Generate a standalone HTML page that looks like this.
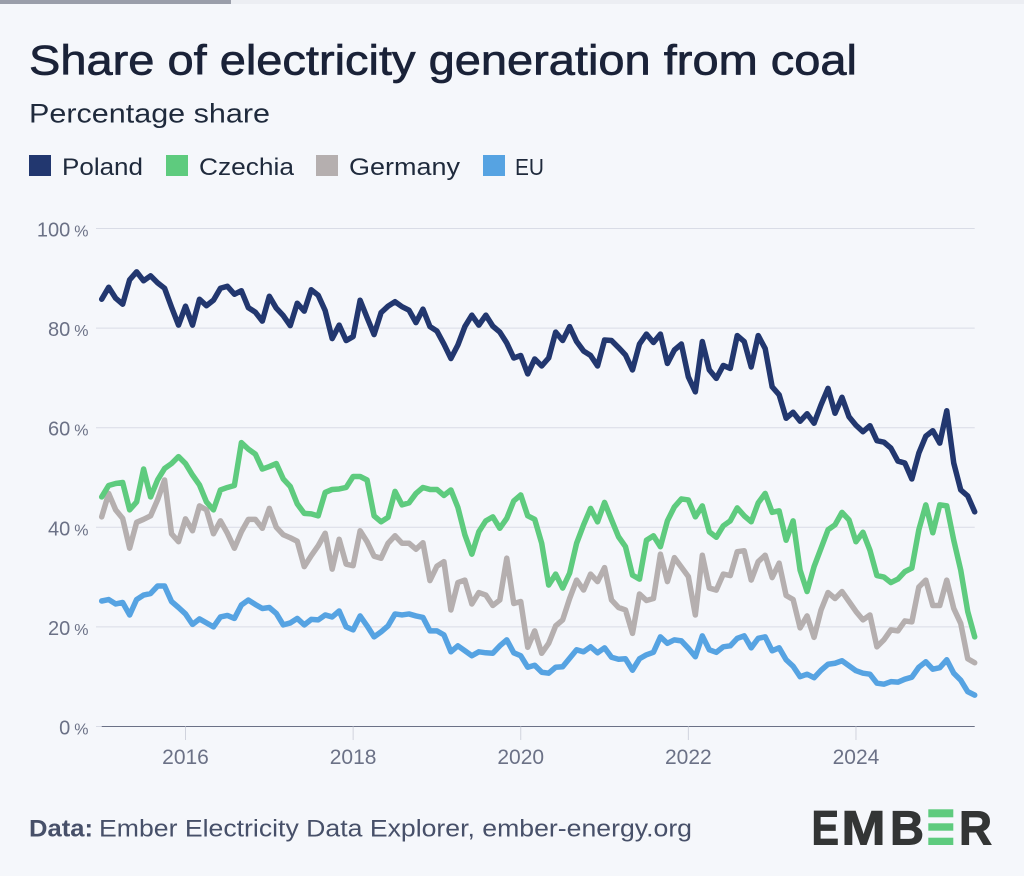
<!DOCTYPE html>
<html lang="en">
<head>
<meta charset="utf-8">
<title>Share of electricity generation from coal</title>
<style>
html,body{margin:0;padding:0;background:#f5f7fb;width:1024px;height:876px;overflow:hidden}
svg{display:block}
text{font-family:"Liberation Sans",sans-serif}
</style>
</head>
<body>
<svg id="chart" xmlns="http://www.w3.org/2000/svg" width="1024" height="876" viewBox="0 0 1024 876">
  <rect x="0" y="0" width="1024" height="876" fill="#f5f7fb"/>
  <rect x="0" y="0" width="1024" height="4" fill="#eceef3"/>
  <rect x="0" y="0" width="231" height="4" fill="#9a9eaa"/>

  <text x="29" y="74.5" font-size="42" fill="#1a2238" stroke="#1a2238" stroke-width="0.7" textLength="828" lengthAdjust="spacingAndGlyphs">Share of electricity generation from coal</text>
  <text x="29" y="122.3" font-size="27" fill="#1f2a3c" textLength="241" lengthAdjust="spacingAndGlyphs">Percentage share</text>

  <g>
    <rect x="29" y="155" width="22" height="21" fill="#22376f"/>
    <text x="62" y="175" font-size="24.5" fill="#1f2a3c" textLength="81" lengthAdjust="spacingAndGlyphs">Poland</text>
    <rect x="166" y="155" width="22" height="21" fill="#5ecb7e"/>
    <text x="199" y="175" font-size="24.5" fill="#1f2a3c" textLength="95" lengthAdjust="spacingAndGlyphs">Czechia</text>
    <rect x="316" y="155" width="22" height="21" fill="#b5afaf"/>
    <text x="349" y="175" font-size="24.5" fill="#1f2a3c" textLength="111" lengthAdjust="spacingAndGlyphs">Germany</text>
    <rect x="483" y="155" width="22" height="21" fill="#56a3e2"/>
    <text x="515" y="175" font-size="23" fill="#1f2a3c" textLength="29" lengthAdjust="spacingAndGlyphs">EU</text>
  </g>

  <g id="y-axis"></g>
  <g id="x-axis"></g>
  <g id="series"></g>

  <g>
    <text x="29" y="836.5" font-size="24.5" font-weight="700" fill="#475069" textLength="64" lengthAdjust="spacingAndGlyphs">Data:</text>
    <text x="99" y="836.5" font-size="24.5" fill="#475069" textLength="593" lengthAdjust="spacingAndGlyphs">Ember Electricity Data Explorer, ember-energy.org</text>
  </g>

  <g>
    <text x="811.5" y="844.7" font-size="48.5" font-weight="700" fill="#333535" stroke="#333535" stroke-width="1" textLength="27.5" lengthAdjust="spacingAndGlyphs">E</text>
    <text x="841.5" y="844.7" font-size="48.5" font-weight="700" fill="#333535" stroke="#333535" stroke-width="1" textLength="44" lengthAdjust="spacingAndGlyphs">M</text>
    <text x="890" y="844.7" font-size="48.5" font-weight="700" fill="#333535" stroke="#333535" stroke-width="1" textLength="34" lengthAdjust="spacingAndGlyphs">B</text>
    <rect x="928.3" y="809.3" width="25" height="8" fill="#5ecb7e"/>
    <rect x="928.3" y="823.3" width="25" height="7.4" fill="#5ecb7e"/>
    <rect x="928.3" y="837.7" width="25" height="7.3" fill="#5ecb7e"/>
    <text x="959" y="844.7" font-size="48.5" font-weight="700" fill="#333535" stroke="#333535" stroke-width="1" textLength="33" lengthAdjust="spacingAndGlyphs">R</text>
  </g>
</svg>
<script>
const startYear = 2015;
const yTicks = [0, 20, 40, 60, 80, 100];
const xTickYears = [2016, 2018, 2020, 2022, 2024];

const poland = [85.8,88.2,86.0,84.8,89.7,91.3,89.5,90.5,89.1,88.0,84.2,80.6,84.4,80.6,85.8,84.5,85.6,88.0,88.4,86.8,87.5,84.1,83.2,81.4,86.4,84.0,82.5,80.5,85.0,83.4,87.7,86.6,83.5,77.9,80.6,77.5,78.3,85.6,82.1,78.7,83.1,84.4,85.3,84.3,83.6,81.1,83.8,80.3,79.4,76.8,73.9,76.6,80.3,82.6,80.6,82.6,80.4,79.2,77.0,74.0,74.5,70.8,73.8,72.4,74.0,79.2,77.5,80.3,77.3,75.4,74.5,72.4,77.6,77.5,76.1,74.6,71.6,76.8,78.8,77.1,78.8,72.9,75.6,76.8,70.2,67.2,77.3,71.6,69.9,72.5,71.9,78.5,77.3,72.2,78.5,75.9,68.2,66.6,61.9,63.1,61.3,62.8,60.9,64.6,67.9,62.9,66.1,62.2,60.5,59.2,60.4,57.4,57.1,55.9,53.3,52.9,49.7,54.9,58.3,59.4,56.9,63.4,52.9,47.5,46.3,43.1];
const czechia = [46.1,48.4,48.8,49.0,43.5,45.1,51.7,46.1,49.5,51.8,52.8,54.2,52.8,50.5,48.5,45.1,43.5,47.5,48.0,48.4,57.0,55.7,54.7,51.7,52.2,52.8,49.7,48.2,44.7,42.8,42.7,42.3,47.0,47.6,47.7,48.0,50.2,50.2,49.5,42.3,41.1,42.0,47.2,44.5,44.9,46.8,48.0,47.6,47.6,46.4,47.5,44.0,38.5,34.6,39.1,41.3,42.1,39.8,41.8,45.3,46.5,42.3,41.6,36.8,28.4,30.6,27.8,30.8,36.8,40.5,43.8,41.1,45.0,41.5,38.1,36.1,30.4,29.6,37.4,38.3,36.1,41.3,44.1,45.7,45.5,42.1,44.3,39.1,38.0,40.3,41.3,43.9,42.3,41.1,44.9,46.8,43.0,43.3,37.4,41.3,31.4,27.1,32.1,35.8,39.5,40.5,43.0,41.5,37.1,39.0,35.4,30.3,30.0,28.9,29.6,31.1,31.8,39.5,44.5,38.9,44.5,44.3,37.4,31.4,23.1,18.0];
const germany = [42.1,46.8,43.5,41.8,35.8,41.0,41.6,42.3,45.5,49.5,38.7,37.1,41.7,39.3,44.3,43.5,38.7,41.3,38.8,35.8,39.1,41.6,41.6,39.8,43.8,40.0,38.5,37.9,37.2,32.1,34.3,36.3,38.8,31.6,37.6,32.6,32.3,39.3,37.1,34.2,33.8,36.8,38.3,36.8,36.8,35.6,36.9,29.3,32.2,33.1,23.4,28.9,29.4,24.6,26.9,26.4,24.3,25.4,33.8,24.7,25.1,15.9,19.2,14.7,16.7,20.2,21.4,25.7,29.4,27.4,30.6,29.1,31.9,25.4,23.9,23.4,18.7,26.6,25.3,25.7,34.6,29.1,33.9,32.0,30.1,22.4,34.4,27.8,27.4,30.6,30.3,35.1,35.3,29.4,33.1,34.4,29.9,32.8,26.3,25.5,19.8,22.2,17.9,23.4,26.9,25.7,27.1,25.1,23.1,21.4,22.4,16.0,17.4,19.4,19.2,21.2,21.0,28.0,29.4,24.3,24.3,29.4,23.7,20.7,13.6,12.8];
const eu = [25.2,25.5,24.6,24.9,22.4,25.5,26.4,26.7,28.2,28.2,25.1,23.9,22.6,20.5,21.6,20.8,20.0,22.0,22.3,21.7,24.4,25.4,24.5,23.7,23.9,22.7,20.4,20.8,21.7,20.4,21.5,21.4,22.4,22.0,23.2,20.0,19.4,22.2,20.2,18.0,19.0,20.2,22.6,22.4,22.6,22.2,21.9,19.2,19.2,18.4,15.0,16.2,15.2,14.2,15.0,14.8,14.7,16.2,17.4,14.8,14.2,11.9,12.3,10.9,10.7,11.9,12.0,13.7,15.4,15.0,16.0,14.8,15.8,13.9,13.5,13.6,11.3,13.6,14.4,14.9,18.0,16.7,17.4,17.2,15.7,14.0,18.2,15.4,14.9,16.0,16.2,17.7,18.2,15.8,17.7,18.0,15.2,15.8,13.4,12.1,10.0,10.5,9.8,11.3,12.5,12.7,13.2,12.2,11.2,10.7,10.5,8.7,8.5,9.0,8.9,9.5,9.9,11.9,13.0,11.5,11.8,13.4,10.7,9.3,7.0,6.3];

const NS = 'http://www.w3.org/2000/svg';
const plotLeft = 101.7;
const plotRight = 974.7;
const monthStep = (plotRight - plotLeft) / 125;
const yZero = 726.5;
const yUnit = 4.98;

function xForMonth(monthIndex) {
  return plotLeft + monthIndex * monthStep;
}
function xForYear(year) {
  return xForMonth((year - startYear) * 12);
}
function yForValue(value) {
  return yZero - value * yUnit;
}
function make(tag, attrs, parent) {
  const el = document.createElementNS(NS, tag);
  for (const k in attrs) el.setAttribute(k, attrs[k]);
  parent.appendChild(el);
  return el;
}

const yAxisGroup = document.getElementById('y-axis');
yTicks.forEach(function (tick) {
  const y = yForValue(tick);
  const grid = make('line', {x1: 96, x2: tick === 0 ? plotLeft : plotRight, y1: y, y2: y, stroke: '#d9dce6', 'stroke-width': 1}, yAxisGroup);
  
  
  const label = make('text', {x: 88.5, y: y + 8, 'text-anchor': 'end', 'font-size': 20, 'word-spacing': '-1.5', fill: '#6b7186'}, yAxisGroup);
  
  
  label.appendChild(document.createTextNode(tick + ' '));
  const pct = make('tspan', {'font-size': 16}, label);
  pct.textContent = '%';
});
const baseline = make('line', {x1: plotLeft, x2: plotRight, y1: yZero, y2: yZero, stroke: '#6b7186', 'stroke-width': 1}, yAxisGroup);



const xAxisGroup = document.getElementById('x-axis');
xTickYears.forEach(function (year) {
  const x = xForYear(year);
  const tick = make('line', {x1: x, x2: x, y1: yZero, y2: 740, stroke: '#d0d3dd', 'stroke-width': 1}, xAxisGroup);
  
  
  const label = make('text', {x: x, y: 764, 'text-anchor': 'middle', 'font-size': 21, fill: '#6b7186'}, xAxisGroup);
  
  
  label.textContent = String(year);
});

function drawSeries(values, color, name) {
  const d = values.map(function (v, i) {
    return (i ? 'L' : 'M') + xForMonth(i).toFixed(2) + ' ' + yForValue(v).toFixed(2);
  }).join('');
  const line = make('path', {d: d, fill: 'none', stroke: color, 'stroke-width': 5.5, 'stroke-linejoin': 'round', 'stroke-linecap': 'round'}, document.getElementById('series'));
  
  
}
drawSeries(eu, '#56a3e2', 'line-eu');
drawSeries(germany, '#b5afaf', 'line-germany');
drawSeries(czechia, '#5ecb7e', 'line-czechia');
drawSeries(poland, '#22376f', 'line-poland');
</script>
</body>
</html>
